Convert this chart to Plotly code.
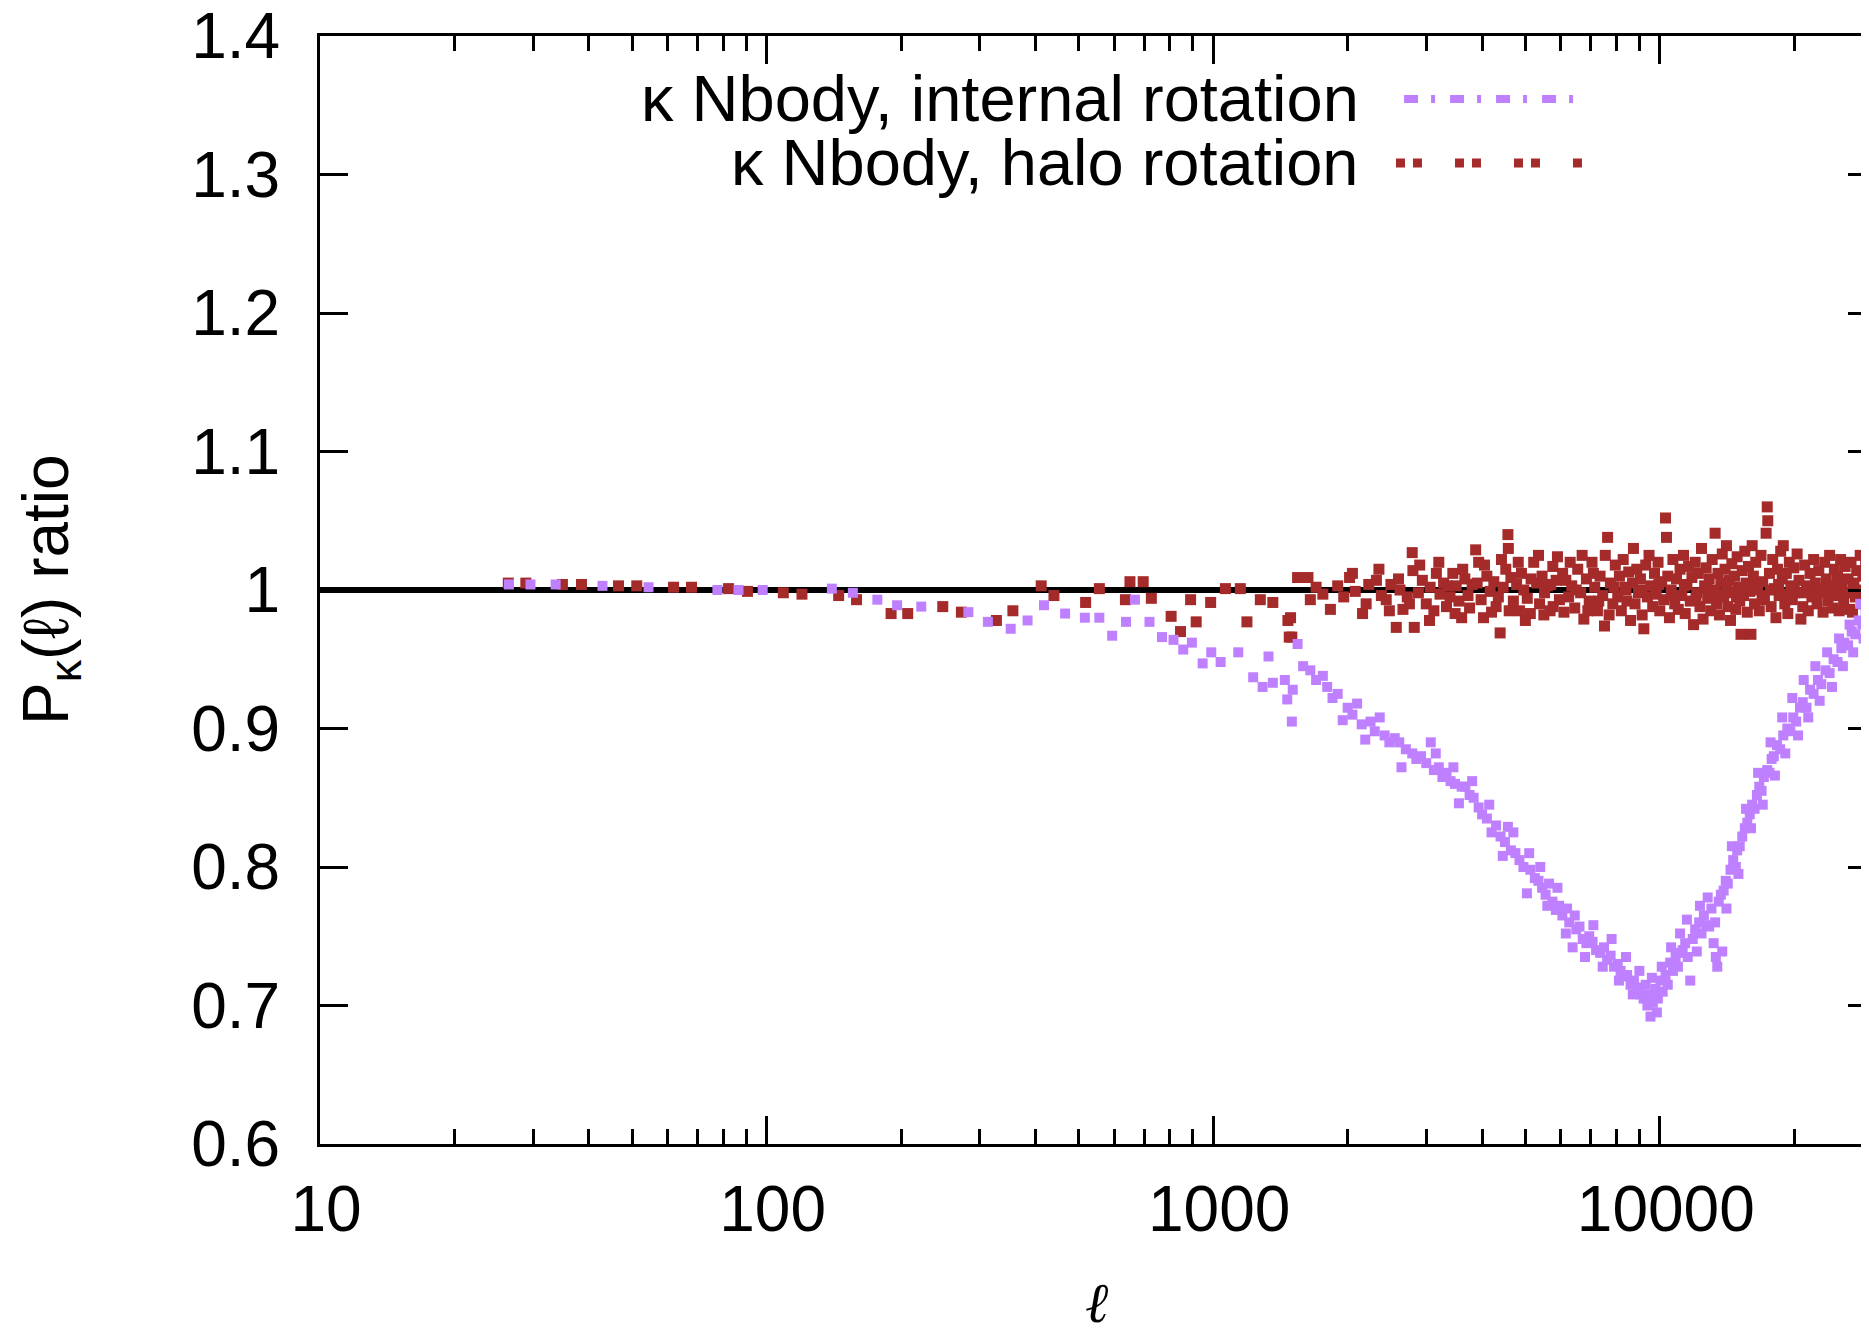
import plotly.graph_objects as go

# reference line at ratio = 1
ref_ell = [10, 40000]
ref_ratio = [1.0, 1.0]

# kappa Nbody, halo rotation
ell_halo = [26.4, 28.9, 34.9, 38.5, 46.6, 51.2, 61.9, 67.9, 82.2, 90.6, 109, 120, 145, 159, 190, 207, 248, 273, 327, 356,
            412, 440, 518, 556, 636, 651, 697, 727, 805, 845, 890, 916, 987, 1065, 1150, 1190, 1275, 1360, 1470, 1480,
            1490, 1500, 1545, 1630, 1650, 1700, 1760, 1830, 1900, 1960, 2020, 2080, 2160, 2230, 2320, 2380, 2440, 2500, 2570, 2620,
            2660, 2720, 2790, 2800, 2820, 2880, 2940, 3000, 3060, 3120, 3160, 3220, 3280, 3330, 3390, 3440, 3500, 3550, 3600, 3660,
            3720, 3800, 3870, 3930, 3980, 4030, 4100, 4170, 4250, 4300, 4350, 4390, 4460, 4520, 4570, 4580, 4640, 4700, 4780, 4850,
            4900, 4960, 5050, 5130, 5220, 5300, 5380, 5450, 5520, 5600, 5680, 5760, 5770, 5860, 5960, 6060, 6160, 6250, 6350, 6450,
            6550, 6650, 6760, 6850, 6950, 7050, 7150, 7250, 7350, 7450, 7520, 7640, 7750, 7850, 7950,
            8050, 8120, 8200, 8280, 8360, 8440, 8520, 8600, 8690, 8730, 8800, 8880, 8960, 9050, 9130, 9210, 9300, 9380, 9460, 9550,
            9640, 9730, 9820, 9910, 10000, 10100, 10200, 10300, 10350, 10420, 10510, 10600, 10700, 10800, 10900, 11000, 11100, 11200, 11300, 11400,
            11500, 11600, 11700, 11800, 11900, 12000, 12100, 12200, 12300, 12400, 12500, 12600, 12700, 12800, 12900, 13000, 13100, 13200, 13300, 13400,
            13500, 13600, 13700, 13800, 13900, 14000, 14100, 14200, 14300, 14400, 14500, 14600, 14700, 14800, 14900, 15000, 15100, 15200, 15300, 15400,
            15500, 15600, 15700, 15800, 15900, 16000, 16100, 16200, 16300, 16400, 16550, 16700, 16850, 17000, 17150, 17300, 17400, 17450, 17600, 17750,
            17900, 18050, 18200, 18350, 18500, 18650, 18800, 18900, 19050, 19200, 19350, 19500, 19650, 19800, 19950, 20100, 20300, 20500, 20700, 20900,
            21100, 21300, 21500, 21700, 21900, 22100, 22300, 22500, 22700, 22900, 23200, 23400, 23600, 23800, 24000, 24200, 24400, 24600, 24800, 25000,
            25200, 25400, 25600, 25800, 26000, 26200, 26400, 26600, 26800, 27000, 27200, 27400, 27600, 27800, 28100, 28300, 28500, 28700, 28900, 29100,
            29300, 29450,
            8400, 9100, 9950, 10650, 11350, 12050, 12750, 13450, 14150, 14850, 15550, 16250, 16950, 17700, 18450, 19250, 20000, 20800, 21600, 22400,
            23300, 24100, 25100, 26100, 27100, 28200, 29200,
            2050, 2200, 2350, 2480, 2600, 2750, 2900, 3050, 3200, 3350, 3480, 3620, 3750, 3900, 4050, 4200, 4420, 4600, 4820, 5000,
            5150, 5350, 5500, 5700, 5900, 6100, 6300, 6500, 6700, 6900, 7100, 7300, 7550, 7700, 7900]
ratio_halo = [1.005, 1.005, 1.004, 1.004, 1.003, 1.003, 1.002, 1.002, 1.001, 0.999, 0.998, 0.997, 0.996, 0.993, 0.983, 0.983, 0.988, 0.984, 0.978, 0.985,
              1.003, 0.996, 0.991, 1.001, 0.993, 1.006, 1.006, 0.994, 0.981, 0.970, 0.993, 0.977, 0.991, 1.001, 1.001, 0.977, 0.993, 0.991, 0.978, 0.966,
              0.980, 0.966, 1.009, 1.009, 0.993, 1.002, 0.997, 0.986, 1.003, 0.995, 1.009, 0.999, 0.983, 1.004, 1.007, 0.996, 0.993, 1.004, 0.973, 1.000,
              0.986, 0.995, 1.027, 1.014, 0.973, 0.998, 1.007, 0.990, 1.002, 0.985, 1.012, 0.997, 1.005, 0.988, 0.995, 1.012, 1.003, 0.992, 0.980, 1.008,
              0.996, 1.004, 1.029, 1.020, 0.993, 0.980, 1.010, 0.999, 1.006, 0.988, 0.995, 0.969, 1.002, 1.015, 1.040, 1.030, 1.009, 0.992, 1.004, 0.985,
              1.012, 1.000, 0.994, 0.983, 1.020, 1.005, 0.990, 1.010, 0.998, 1.003, 0.985, 1.017, 0.988, 1.007, 0.993, 1.012, 1.007, 0.995, 1.003, 0.987,
              1.015, 0.998, 0.979, 1.008, 0.992, 1.020, 1.002, 0.985, 1.010, 0.996, 0.974, 1.038, 1.005, 0.990, 1.018,
              0.995, 1.010, 0.985, 1.022, 1.002, 0.992, 1.013, 0.978, 1.005, 1.030, 0.990, 1.015, 0.998, 1.008, 0.982, 0.972, 1.018, 0.995, 1.025, 1.003,
              0.988, 1.012, 0.997, 1.020, 0.985, 1.006, 0.993, 1.052, 1.038, 1.010, 0.980, 1.000, 1.022, 0.990, 1.008, 0.986, 1.015, 0.996, 1.025, 0.983,
              1.004, 1.017, 0.992, 1.009, 0.975, 1.020, 0.998, 1.012, 0.988, 1.030, 0.979, 1.003, 1.016, 0.994, 1.008, 0.985, 1.022, 1.000, 1.041, 0.990,
              1.012, 0.982, 1.005, 1.026, 0.995, 1.015, 1.032, 0.988, 1.007, 0.978, 1.019, 0.998, 1.010, 0.986, 1.024, 1.002, 0.992, 0.968, 1.014, 0.996,
              1.028, 1.005, 0.984, 1.017, 0.999, 0.968, 1.032, 1.010, 0.990, 1.020, 1.000, 0.985, 1.025, 1.006, 0.993, 1.041, 1.060, 1.050, 1.012, 0.988,
              1.022, 1.001, 0.980, 1.015, 0.996, 1.028, 1.008, 1.032, 0.990, 1.012, 0.983, 1.020, 1.003, 0.993, 1.016, 0.998, 1.026, 1.007, 0.979, 0.988,
              1.018, 1.000, 0.985, 1.012, 0.995, 1.022, 1.005, 0.990, 1.014, 0.998, 0.984, 1.020, 1.008, 0.992, 1.025, 1.003, 0.987, 1.015, 0.996, 1.010,
              0.985, 1.022, 1.002, 0.991, 1.017, 0.998, 1.008, 0.986, 1.020, 0.984, 1.005, 0.995, 1.014, 1.000, 1.025, 0.990, 1.010, 0.997, 1.018, 1.003,
              0.988, 1.012,
              1.000, 1.000, 1.004, 0.996, 1.003, 0.994, 1.001, 0.997, 1.002, 0.995, 1.000, 1.003, 0.996, 1.000, 1.004, 0.997, 1.002, 0.998, 1.003, 0.997,
              1.001, 0.996, 1.003, 0.998, 1.002, 0.997, 1.000,
              1.012, 0.990, 1.015, 0.985, 1.008, 0.990, 1.018, 0.978, 1.020, 1.003, 0.983, 1.015, 0.987, 1.005, 1.018, 0.984, 1.022, 0.985, 1.020, 0.978,
              1.008, 1.025, 0.982, 1.004, 1.024, 0.984, 1.020, 1.000, 1.025, 0.985, 1.012, 0.992, 1.025, 0.982, 1.002]

# kappa Nbody, internal rotation
ell_int = [26.5, 29.6, 33.7, 42.9, 54.4, 77.6, 86.5, 98, 140, 156, 177, 196, 222, 283, 313, 352, 384, 418, 466, 516,
           556, 594, 638, 668, 720, 768, 815, 857, 896, 947, 990, 1039, 1138, 1229, 1290, 1330, 1360, 1447, 1465, 1500,
           1507, 1545, 1590, 1650, 1700, 1760, 1800, 1850, 1900, 1950, 2000, 2050, 2100, 2150, 2190, 2250, 2300, 2360, 2420, 2480,
           2550, 2610, 2640, 2700, 2790, 2850, 2920, 3000, 3070, 3120, 3200, 3260, 3330, 3400, 3480, 3550, 3600, 3670, 3750, 3830,
           3930, 4000, 4100, 4200, 4300, 4400, 4500, 4570, 4640, 4750, 4850, 4950, 5040, 5130, 5250, 5350, 5450, 5550, 5650, 5750,
           5850, 5950, 6050, 6160, 6270, 6380, 6500, 6610, 6720, 6850, 6950, 7070, 7200, 7350, 7500, 7620, 7760, 7900, 8050, 8170,
           8300, 8450, 8600, 8750, 8920, 9050, 9200, 9380, 9450, 9530, 9650, 9780, 9900, 10030, 10150, 10300, 10420, 10550, 10700, 10850,
           10980, 11100, 11250, 11400, 11550, 11700, 11850, 12000, 12100, 12250, 12400, 12550, 12700, 12900, 13050, 13200, 13350, 13450, 13550, 13700,
           13800, 13900, 14050, 14200, 14400, 14600, 14800, 14900, 15100, 15300, 15500, 15700, 15900, 16100, 16300, 16500, 16700, 16900, 17100, 17400,
           17600, 17800, 18000, 18300, 18600, 18900, 19300, 19600, 19900, 20200, 20600, 20900, 21300, 21700, 22100, 22600, 23000, 23500, 24000, 24500,
           25000, 25500, 25900, 26400, 26900, 27400, 27900, 28400, 28900, 29300,
           10100, 10600, 11000, 11500, 12300, 12800, 13300, 14100, 14500, 15000, 15600, 16000, 16600, 17000, 17700, 18100, 18800, 19100, 19800, 20400,
           21000, 21500, 22300, 22800, 23700, 24300, 25200, 25700, 26600, 27100, 28100, 28600, 29100, 29450,
           5100, 5400, 5600, 5900, 6200, 6450, 6800, 7100, 7450, 7800, 8100, 8400, 8700, 9000, 9300, 9600, 9850,
           3150, 3450, 3800, 4150, 4450, 4700]
ratio_int = [1.004, 1.004, 1.004, 1.003, 1.002, 1.000, 1.000, 1.000, 1.001, 0.998, 0.993, 0.989, 0.988, 0.984, 0.977, 0.972, 0.978, 0.989, 0.983, 0.980,
             0.980, 0.967, 0.977, 0.993, 0.977, 0.966, 0.964, 0.957, 0.962, 0.947, 0.955, 0.948, 0.955, 0.937, 0.930, 0.952, 0.933, 0.935, 0.921, 0.905,
             0.928, 0.961, 0.945, 0.942, 0.935, 0.938, 0.930, 0.922, 0.925, 0.906, 0.915, 0.910, 0.918, 0.903, 0.892, 0.905, 0.898, 0.908, 0.895, 0.890,
             0.893, 0.890, 0.872, 0.885, 0.882, 0.878, 0.880, 0.875, 0.890, 0.870, 0.872, 0.865, 0.868, 0.862, 0.860, 0.846, 0.858, 0.858, 0.852, 0.850,
             0.843, 0.838, 0.835, 0.825, 0.830, 0.822, 0.818, 0.829, 0.812, 0.810, 0.805, 0.800, 0.781, 0.798, 0.792, 0.790, 0.785, 0.780, 0.788, 0.775,
             0.769, 0.772, 0.765, 0.752, 0.760, 0.742, 0.755, 0.757, 0.748, 0.745, 0.750, 0.746, 0.740, 0.738, 0.742, 0.733, 0.736, 0.728, 0.730, 0.725,
             0.721, 0.722, 0.715, 0.718, 0.713, 0.708, 0.705, 0.700, 0.708, 0.692, 0.702, 0.712, 0.705, 0.718, 0.710, 0.722, 0.715, 0.731, 0.725, 0.735,
             0.728, 0.752, 0.740, 0.745, 0.735, 0.718, 0.748, 0.755, 0.739, 0.760, 0.752, 0.765, 0.758, 0.757, 0.770, 0.745, 0.735, 0.728, 0.775, 0.780,
             0.739, 0.783, 0.790, 0.788, 0.798, 0.805, 0.800, 0.812, 0.815, 0.822, 0.828, 0.832, 0.838, 0.845, 0.842, 0.852, 0.858, 0.855, 0.865, 0.870,
             0.868, 0.878, 0.880, 0.888, 0.885, 0.895, 0.900, 0.898, 0.908, 0.905, 0.915, 0.919, 0.915, 0.928, 0.925, 0.935, 0.932, 0.942, 0.940, 0.950,
             0.948, 0.958, 0.962, 0.960, 0.970, 0.968, 0.978, 0.975, 0.985, 0.982,
             0.728, 0.742, 0.738, 0.762, 0.772, 0.778, 0.760, 0.770, 0.815, 0.795, 0.842, 0.828, 0.868, 0.845, 0.890, 0.866, 0.908, 0.882, 0.922, 0.895,
             0.935, 0.908, 0.945, 0.920, 0.955, 0.930, 0.965, 0.945, 0.975, 0.955, 0.990, 0.965, 0.995, 0.975,
             0.810, 0.800, 0.772, 0.785, 0.770, 0.765, 0.735, 0.758, 0.728, 0.748, 0.718, 0.735, 0.708, 0.725, 0.715, 0.720, 0.695,
             0.882, 0.872, 0.862, 0.845, 0.808, 0.825]

y_ticks = [0.6, 0.7, 0.8, 0.9, 1.0, 1.1, 1.2, 1.3, 1.4]
y_ticktext = ['0.6', '0.7', '0.8', '0.9', '1', '1.1', '1.2', '1.3', '1.4']
x_ticks = [10, 100, 1000, 10000]
x_ticktext = ['10', '100', '1000', '10000']
x_minor = [20, 30, 40, 50, 60, 70, 80, 90, 200, 300, 400, 500, 600, 700, 800, 900,
           2000, 3000, 4000, 5000, 6000, 7000, 8000, 9000, 20000, 30000]

purple = '#BF80FF'
brown = '#A52A2A'
font_family = 'Liberation Sans, Arial, Helvetica, sans-serif'

fig = go.Figure()
fig.add_trace(go.Scatter(x=ref_ell, y=ref_ratio, mode='lines', line=dict(color='black', width=6),
                         showlegend=False, hoverinfo='skip'))
fig.add_trace(go.Scatter(x=ell_halo, y=ratio_halo, mode='markers',
                         marker=dict(symbol='square', size=11, color=brown, line=dict(width=0)),
                         name='κ Nbody, halo rotation', showlegend=False))
# purple on the overlay axis, so it also gives the right-hand ticks
fig.add_trace(go.Scatter(x=ell_int, y=ratio_int, mode='markers', yaxis='y2',
                         marker=dict(symbol='square', size=10, color=purple, line=dict(width=0)),
                         name='κ Nbody, internal rotation', showlegend=False))

# the page body adds 8px, so the frame runs a little past the right edge like the original crop
fig.update_layout(
    width=1868,
    height=1322,
    margin=dict(l=312, r=0, t=28, b=186, autoexpand=False),
    paper_bgcolor='white',
    plot_bgcolor='white',
    font=dict(family=font_family, size=64, color='black'),
    showlegend=False,
    xaxis=dict(type='log', range=[1, 4.4841], tickvals=x_ticks, ticktext=x_ticktext,
               ticks='inside', ticklen=28, tickwidth=3, tickcolor='black',
               minor=dict(tickmode='array', tickvals=x_minor, ticks='inside', ticklen=15, tickwidth=2.5, tickcolor='black', showgrid=False),
               showline=True, linewidth=3, linecolor='black', mirror='ticks',
               showgrid=False, zeroline=False, ticklabelstandoff=7, ticklabelshift=6,
               ticklabeloverflow='allow', automargin=False, tickfont=dict(family=font_family, size=64)),
    yaxis=dict(range=[0.6, 1.4], tickvals=y_ticks, ticktext=y_ticktext,
               ticks='inside', ticklen=28, tickwidth=3, tickcolor='black',
               showline=True, linewidth=3, linecolor='black', mirror=False,
               showgrid=False, zeroline=False, ticklabelstandoff=24,
               ticklabeloverflow='allow', automargin=False, tickfont=dict(family=font_family, size=64)),
    yaxis2=dict(overlaying='y', side='right', range=[0.6, 1.4], tickvals=y_ticks,
                ticks='inside', ticklen=28, tickwidth=3, tickcolor='black', automargin=False,
                showticklabels=False, showline=False, showgrid=False, zeroline=False),
)

# axis titles
fig.add_annotation(text='P<sub>κ</sub>(ℓ) ratio', xref='paper', yref='paper', x=-0.1735, y=0.5,
                   xanchor='center', yanchor='middle', textangle=-90, showarrow=False,
                   font=dict(family=font_family, size=64))
fig.add_annotation(text='<i>ℓ</i>', xref='paper', yref='paper', x=0.4994, y=-0.143,
                   xanchor='center', yanchor='middle', showarrow=False,
                   font=dict(family='DejaVu Serif, serif', size=56))

# gnuplot style key: text on the left, sample line on the right
fig.add_annotation(text='κ Nbody, internal rotation', xref='paper', yref='paper', x=0.669, y=0.9432,
                   xanchor='right', yanchor='middle', showarrow=False, font=dict(family=font_family, size=65))
fig.add_annotation(text='κ Nbody, halo rotation', xref='paper', yref='paper', x=0.669, y=0.8854,
                   xanchor='right', yanchor='middle', showarrow=False, font=dict(family=font_family, size=65))
fig.add_shape(type='line', xref='paper', yref='paper', x0=0.6967, x1=0.8059, y0=0.9432, y1=0.9432,
              line=dict(color=purple, width=8, dash='14px,13px,4px,15px'))
fig.add_shape(type='line', xref='paper', yref='paper', x0=0.6915, x1=0.8111, y0=0.8854, y1=0.8854,
              line=dict(color=brown, width=9, dash='9px,8px,9px,33px'))

fig.write_html('out.html')
